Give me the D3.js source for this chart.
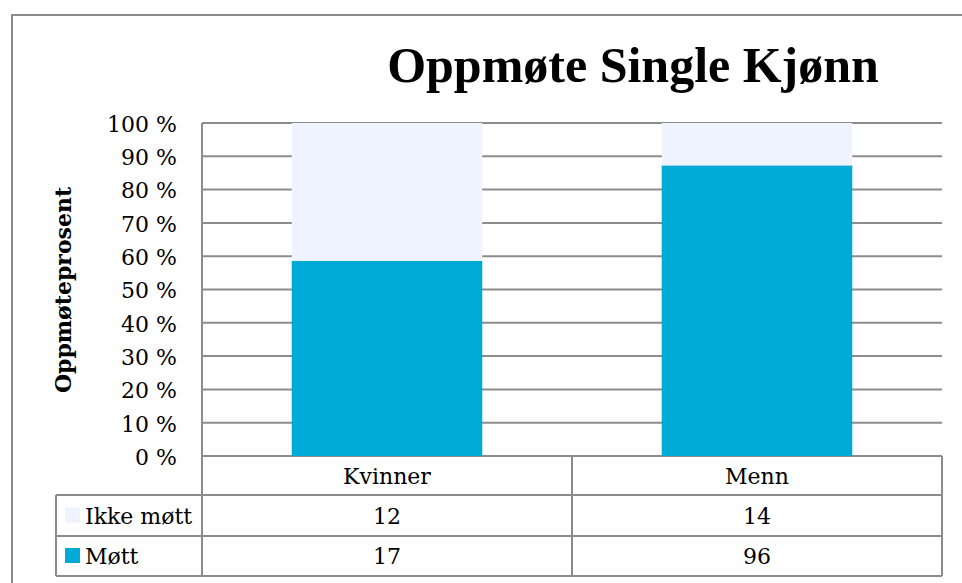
<!DOCTYPE html>
<html><head><meta charset="utf-8">
<script src="https://cdn.jsdelivr.net/npm/d3@7"></script>
<style>body{margin:0;background:#fff}svg{display:block}</style>
</head><body>
<script>
const categories = ["Kvinner", "Menn"];
const seriesNames = ["Møtt", "Ikke møtt"];
const mott = [17, 96];
const ikkeMott = [12, 14];
const yTicks = [0, 10, 20, 30, 40, 50, 60, 70, 80, 90, 100];
const colors = {"Møtt": "#00aad6", "Ikke møtt": "#eff2ff"};

const W = 962, H = 583;
const font = "'DejaVu Serif', serif";
const titleFont = "'Liberation Serif', 'DejaVu Serif', serif";
const grid = "#8c8c8c";
const svg = d3.select("body").append("svg").attr("width", W).attr("height", H);

// outer frame
svg.append("path").attr("d", `M12,${H} L12,15 L${W},15`).attr("fill", "none").attr("stroke", grid).attr("stroke-width", 2);

const x0 = 202, x1 = 942, yTop = 123, yBot = 456;
const x = d3.scaleBand().domain(categories).range([x0, x1]).paddingInner(0).paddingOuter(0);
const y = d3.scaleLinear().domain([0, 100]).range([yBot, yTop]);

// title
svg.append("text").attr("x", 633).attr("y", 82).attr("text-anchor", "middle")
  .attr("font-family", titleFont).attr("font-weight", "bold").attr("font-size", 50).text("Oppmøte Single Kjønn");

// gridlines
svg.append("g").selectAll("line").data(yTicks).join("line")
  .attr("x1", x0).attr("x2", x1).attr("y1", d => y(d)).attr("y2", d => y(d))
  .attr("stroke", grid).attr("stroke-width", 2);

// stacked bars (percent)
const data = categories.map((c, i) => {
  const tot = mott[i] + ikkeMott[i];
  return {cat: c, "Møtt": mott[i] / tot * 100, "Ikke møtt": ikkeMott[i] / tot * 100};
});
const stack = d3.stack().keys(seriesNames)(data);
const bw = x.bandwidth() * 0.515;
svg.append("g").selectAll("g").data(stack).join("g").attr("fill", d => colors[d.key])
  .selectAll("rect").data(d => d).join("rect")
  .attr("x", d => x(d.data.cat) + (x.bandwidth() - bw) / 2)
  .attr("width", bw)
  .attr("y", d => y(d[1]))
  .attr("height", d => y(d[0]) - y(d[1]));

// y axis
const yAxis = d3.axisLeft(y).tickValues(yTicks).tickFormat(d => d + " %").tickSize(0).tickPadding(25);
const ya = svg.append("g").attr("transform", `translate(${x0},0)`).call(yAxis);
ya.select(".domain").remove();
ya.selectAll("text").attr("font-family", font).attr("font-size", 22).attr("fill", "#000").attr("dy", "0.38em");

// y title
svg.append("text").attr("transform", "translate(71,290) rotate(-90)").attr("text-anchor", "middle")
  .attr("font-family", font).attr("font-weight", "bold").attr("font-size", 22).text("Oppmøteprosent");

// data table
const rowH = [yBot, 495, 536, 576];
const tl = 56;
const tg = svg.append("g").attr("stroke", grid).attr("stroke-width", 2).attr("fill", "none");
tg.append("line").attr("x1", x0).attr("x2", x0).attr("y1", yTop).attr("y2", rowH[3]);
tg.append("line").attr("x1", x1).attr("x2", x1).attr("y1", yBot).attr("y2", rowH[3]);
tg.append("line").attr("x1", x0 + x.bandwidth()).attr("x2", x0 + x.bandwidth()).attr("y1", yBot).attr("y2", rowH[3]);
tg.append("line").attr("x1", tl).attr("x2", tl).attr("y1", rowH[1]).attr("y2", rowH[3]);
tg.append("line").attr("x1", tl).attr("x2", x1).attr("y1", rowH[1]).attr("y2", rowH[1]);
tg.append("line").attr("x1", tl).attr("x2", x1).attr("y1", rowH[2]).attr("y2", rowH[2]);
tg.append("line").attr("x1", tl).attr("x2", x1).attr("y1", rowH[3]).attr("y2", rowH[3]);

// category labels
svg.append("g").selectAll("text").data(categories).join("text")
  .attr("x", d => x(d) + x.bandwidth() / 2).attr("y", (rowH[0] + rowH[1]) / 2 + 8)
  .attr("text-anchor", "middle").attr("font-family", font).attr("font-size", 22).text(d => d);

const rows = [{name: "Ikke møtt", vals: ikkeMott}, {name: "Møtt", vals: mott}];
rows.forEach((r, i) => {
  const cy = (rowH[i + 1] + rowH[i + 2]) / 2;
  svg.append("rect").attr("x", 65).attr("y", cy - 8).attr("width", 15).attr("height", 15).attr("fill", colors[r.name]);
  svg.append("text").attr("x", 85).attr("y", cy + 8).attr("font-family", font).attr("font-size", 22).text(r.name);
  svg.append("g").selectAll("text").data(r.vals).join("text")
    .attr("x", (d, j) => x(categories[j]) + x.bandwidth() / 2).attr("y", cy + 8)
    .attr("text-anchor", "middle").attr("font-family", font).attr("font-size", 22).text(d => d);
});
</script>
</body></html>
